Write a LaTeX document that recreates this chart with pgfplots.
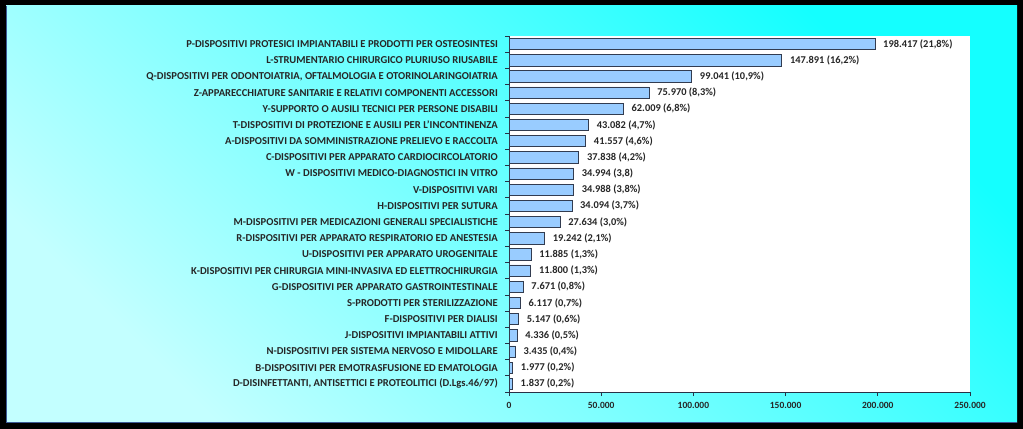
\documentclass[border=0pt]{standalone}
\usepackage{pgfplots}
\usepackage{pgfplotstable}
\pgfplotsset{compat=1.18}
\usepackage{fontspec}
\setmainfont{Carlito}

\definecolor{barfill}{RGB}{153,204,255}
\definecolor{bardraw}{RGB}{50,60,80}
\definecolor{axisc}{RGB}{40,50,70}
\definecolor{bgtop}{RGB}{20,255,255}
\definecolor{bgbot}{RGB}{195,255,255}
\definecolor{edge}{RGB}{60,90,150}

\pgfplotstableread[col sep=semicolon]{
name;v;lab
P-DISPOSITIVI PROTESICI IMPIANTABILI E PRODOTTI PER OSTEOSINTESI;198417;198.417 (21,8\%)
L-STRUMENTARIO CHIRURGICO PLURIUSO RIUSABILE;147891;147.891 (16,2\%)
Q-DISPOSITIVI PER ODONTOIATRIA, OFTALMOLOGIA E OTORINOLARINGOIATRIA;99041;99.041 (10,9\%)
Z-APPARECCHIATURE SANITARIE E RELATIVI COMPONENTI ACCESSORI;75970;75.970 (8,3\%)
Y-SUPPORTO O AUSILI TECNICI PER PERSONE DISABILI;62009;62.009 (6,8\%)
T-DISPOSITIVI DI PROTEZIONE E AUSILI PER L'INCONTINENZA;43082;43.082 (4,7\%)
A-DISPOSITIVI DA SOMMINISTRAZIONE PRELIEVO E RACCOLTA;41557;41.557 (4,6\%)
C-DISPOSITIVI PER APPARATO CARDIOCIRCOLATORIO;37838;37.838 (4,2\%)
W - DISPOSITIVI MEDICO-DIAGNOSTICI IN VITRO;34994;34.994 (3,8)
V-DISPOSITIVI VARI;34988;34.988 (3,8\%)
H-DISPOSITIVI PER SUTURA;34094;34.094 (3,7\%)
M-DISPOSITIVI PER MEDICAZIONI GENERALI SPECIALISTICHE;27634;27.634 (3,0\%)
R-DISPOSITIVI PER APPARATO RESPIRATORIO ED ANESTESIA;19242;19.242 (2,1\%)
U-DISPOSITIVI PER APPARATO UROGENITALE;11885;11.885 (1,3\%)
K-DISPOSITIVI PER CHIRURGIA MINI-INVASIVA ED ELETTROCHIRURGIA;11800;11.800 (1,3\%)
G-DISPOSITIVI PER APPARATO GASTROINTESTINALE;7671;7.671 (0,8\%)
S-PRODOTTI PER STERILIZZAZIONE;6117;6.117 (0,7\%)
F-DISPOSITIVI PER DIALISI;5147;5.147 (0,6\%)
J-DISPOSITIVI IMPIANTABILI ATTIVI;4336;4.336 (0,5\%)
N-DISPOSITIVI PER SISTEMA NERVOSO E MIDOLLARE;3435;3.435 (0,4\%)
B-DISPOSITIVI PER EMOTRASFUSIONE ED EMATOLOGIA;1977;1.977 (0,2\%)
D-DISINFETTANTI, ANTISETTICI E PROTEOLITICI (D.Lgs.46/97);1837;1.837 (0,2\%)
}\data

\begin{document}
\begin{tikzpicture}
  % frame and background
  \fill[black] (0,0) rectangle (1023bp,429bp);
  \shade[top color=bgtop, bottom color=bgbot, shading angle=-45]
    (6bp,6bp) rectangle (1017bp,423bp);
  \draw[edge, line width=1bp] (6.5bp,423bp) -- (6.5bp,6.5bp) -- (1017bp,6.5bp);
  \begin{axis}[
    at={(509bp,37bp)}, anchor=south west,
    scale only axis,
    width=461bp, height=356bp,
    xbar, bar width=0.7,
    xmin=0, xmax=250000,
    ymin=-0.5, ymax=21.5,
    y dir=reverse,
    axis background/.style={fill=white},
    axis x line*=bottom, axis y line*=left,
    axis line style={draw=axisc, line width=0.8bp},
    tick align=outside,
    major tick length=0pt, minor tick length=4bp,
    tick style={draw=axisc, line width=0.8bp},
    xtick={0,50000,...,250000},
    minor xtick={0,50000,...,250000},
    ytick={0,...,21},
    minor ytick={-0.5,0.5,...,21.5},
    yticklabels from table={\data}{name},
    scaled x ticks=false,
    /pgf/number format/fixed,
    /pgf/number format/1000 sep={.},
    /pgf/number format/assume math mode=true,
    tick label style={text=black!85},
    xticklabel style={inner sep=0pt, yshift=-10bp, font=\fontsize{9.5bp}{11bp}\selectfont\bfseries},
    yticklabel style={inner sep=0pt, xshift=-11bp, font=\fontsize{10.6bp}{12bp}\selectfont\bfseries},
    point meta=explicit symbolic,
    nodes near coords={\pgfplotspointmeta},
    nodes near coords style={anchor=west, inner sep=0pt, xshift=8bp,
      font=\fontsize{10.4bp}{12bp}\selectfont\bfseries, text=black!85},
  ]
    \addplot[fill=barfill, draw=bardraw, line width=0.7bp]
      table[x=v, y expr=\coordindex, meta=lab] {\data};
  \end{axis}
\end{tikzpicture}
\end{document}
